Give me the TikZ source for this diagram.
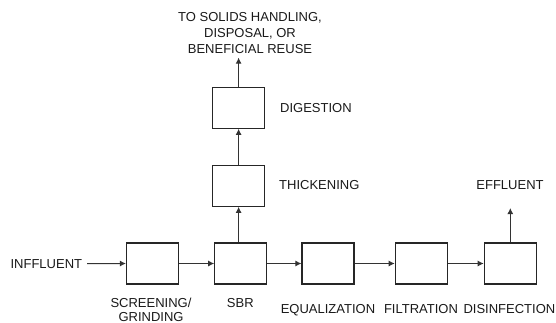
\documentclass[tikz,border=0pt]{standalone}
\usepackage{fontspec}
\setmainfont{Liberation Sans}
\usetikzlibrary{arrows.meta}
\begin{document}
\begin{tikzpicture}[x=1pt,y=-1pt,
  unit/.style={draw=black!85, line width=1.2pt, minimum width=52pt, minimum height=41pt, inner sep=0pt},
  lbl/.style={inner sep=0pt, font=\fontsize{13}{16}\selectfont, text=black!90},
  flow/.style={draw=black!80, line width=1pt, -{Latex[length=6pt,width=6pt]}}]
  \useasboundingbox (0,0) rectangle (556,322);

  % main treatment train
  \node[unit] (scr) at (152.5,263.5) {};
  \node[unit] (sbr) at (240.8,263.5) {};
  \node[unit] (eq)  at (328,263.5) {};
  \node[unit] (fil) at (421.3,263.5) {};
  \node[unit] (dis) at (510.3,263.5) {};

  % solids train
  \node[unit] (thk) at (238.6,185.7) {};
  \node[unit] (dig) at (238.6,107.7) {};

  % labels
  \node[lbl, anchor=base east] (inf) at (82.3,268) {INFFLUENT};
  \node[lbl, anchor=base] (eff) at (510,189.7) {EFFLUENT};
  \node[lbl, anchor=north, align=center] (out) at (250,12)
    {TO SOLIDS HANDLING,\\DISPOSAL, OR\\BENEFICIAL REUSE};
  \node[lbl, anchor=base west] at (280,112) {DIGESTION};
  \node[lbl, anchor=base west] at (279,189.7) {THICKENING};
  \node[lbl, anchor=north, align=center, font=\fontsize{13}{14}\selectfont] at (151,298)
    {SCREENING/\\GRINDING};
  \node[lbl, anchor=base] at (240.3,307.3) {SBR};
  \node[lbl, anchor=base] at (328,313) {EQUALIZATION};
  \node[lbl, anchor=base] at (421,313) {FILTRATION};
  \node[lbl, anchor=base] at (509.4,313) {DISINFECTION};

  % connectors
  \draw[flow, shorten <=4.7pt] (inf.east) -- (scr.west);
  \draw[flow] (scr.east) -- (sbr.west);
  \draw[flow] (sbr.east) -- (eq.west);
  \draw[flow] (eq.east) -- (fil.west);
  \draw[flow] (fil.east) -- (dis.west);
  \draw[flow] (thk.south |- sbr.north) -- (thk.south);
  \draw[flow] (thk.north) -- (dig.south);
  \draw[flow, shorten >=4pt] (dig.north) -- (dig.north |- out.south);
  \draw[flow, shorten >=18pt] (dis.north) -- (dis.north |- eff.south);
\end{tikzpicture}
\end{document}
